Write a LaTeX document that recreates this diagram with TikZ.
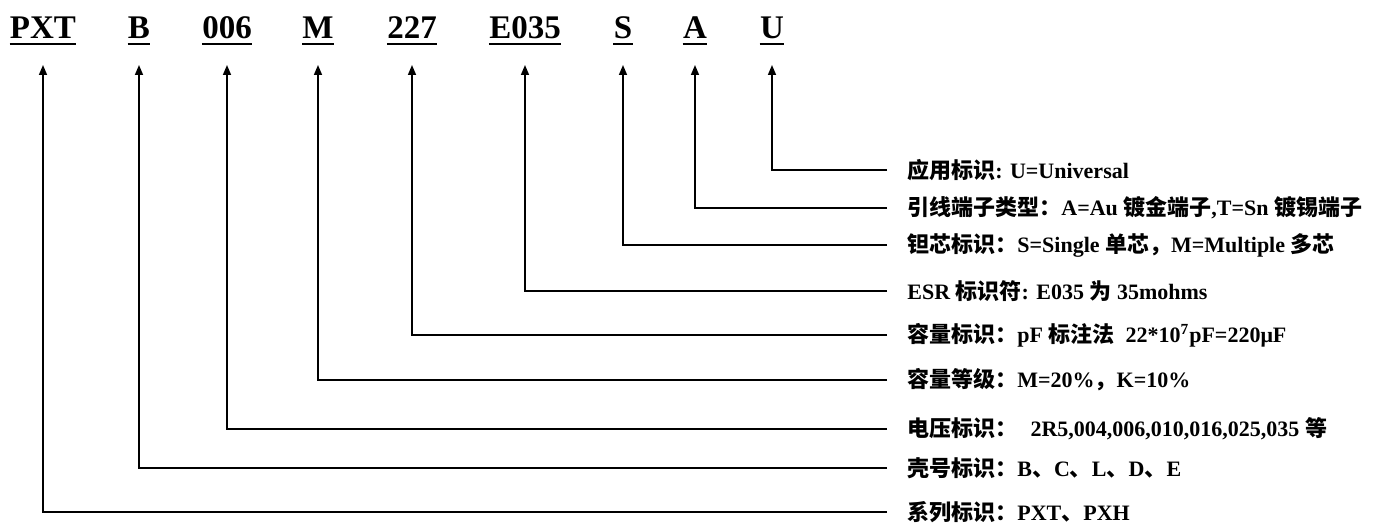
\documentclass[tikz,border=0pt]{standalone}
\usepackage{fontspec}
\setmainfont{Liberation Serif}
\newfontfamily\cjk{Noto Sans CJK SC}
\newcommand{\zh}[1]{{\cjk #1}}
\usetikzlibrary{arrows.meta}
\tikzset{
  code/.style={font=\fontsize{16.5}{20}\selectfont\bfseries, inner sep=0pt, anchor=base},
  lbl/.style={font=\fontsize{11}{13}\selectfont\bfseries, inner xsep=10pt, inner ysep=0pt, anchor=west},
  arr/.style={line width=0.8pt, -{Triangle[width=4pt,length=5pt]}},
  uline/.style={line width=1.2pt}
}
\begin{document}
\begin{tikzpicture}[x=0.5pt,y=-0.5pt]
\useasboundingbox (0,0) rectangle (1391,523);
% part number codes
\node[code] (cPXT) at (43,39) {PXT};
\node[code] (cB) at (139,39) {B};
\node[code] (cV) at (227,39) {006};
\node[code] (cM) at (318,39) {M};
\node[code] (cC) at (412,39) {227};
\node[code] (cE) at (525,39) {E035};
\node[code] (cS) at (623,39) {S};
\node[code] (cA) at (695,39) {A};
\node[code] (cU) at (772,39) {U};
% underlines of the codes
\foreach \c in {cPXT,cB,cV,cM,cC,cE,cS,cA,cU}
  \draw[uline] ([yshift=-2.5pt]\c.base west) -- ([yshift=-2.5pt]\c.base east);
% explanations
\node[lbl] (lU) at (887,170) {\zh{应用标识}: U=Universal};
\node[lbl] (lA) at (887,208) {\zh{引线端子类型：}A=Au \zh{镀金端子},T=Sn \zh{镀锡端子}};
\node[lbl] (lS) at (887,245) {\zh{钽芯标识：}S=Single \zh{单芯，}M=Multiple \zh{多芯}};
\node[lbl] (lE) at (887,291) {ESR \zh{标识符}: E035 \zh{为} 35mohms};
\node[lbl] (lC) at (887,335) {\zh{容量标识：}pF \zh{标注法}\hspace{0.5em}22*10\textsuperscript{7}pF=220μF};
\node[lbl] (lM) at (887,380) {\zh{容量等级：}M=20\%\zh{，}K=10\%};
\node[lbl] (lV) at (887,429) {\zh{电压标识：}\hspace{0.6em}2R5,004,006,010,016,025,035 \zh{等}};
\node[lbl] (lB) at (887,468) {\zh{壳号标识：}B\zh{、}C\zh{、}L\zh{、}D\zh{、}E};
\node[lbl] (lPXT) at (887,512) {\zh{系列标识：}PXT\zh{、}PXH};
% leaders from explanations up to the codes
\draw[arr] (lU.west) -| ([yshift=-13pt]cU.base);
\draw[arr] (lA.west) -| ([yshift=-13pt]cA.base);
\draw[arr] (lS.west) -| ([yshift=-13pt]cS.base);
\draw[arr] (lE.west) -| ([yshift=-13pt]cE.base);
\draw[arr] (lC.west) -| ([yshift=-13pt]cC.base);
\draw[arr] (lM.west) -| ([yshift=-13pt]cM.base);
\draw[arr] (lV.west) -| ([yshift=-13pt]cV.base);
\draw[arr] (lB.west) -| ([yshift=-13pt]cB.base);
\draw[arr] (lPXT.west) -| ([yshift=-13pt]cPXT.base);
\end{tikzpicture}
\end{document}
